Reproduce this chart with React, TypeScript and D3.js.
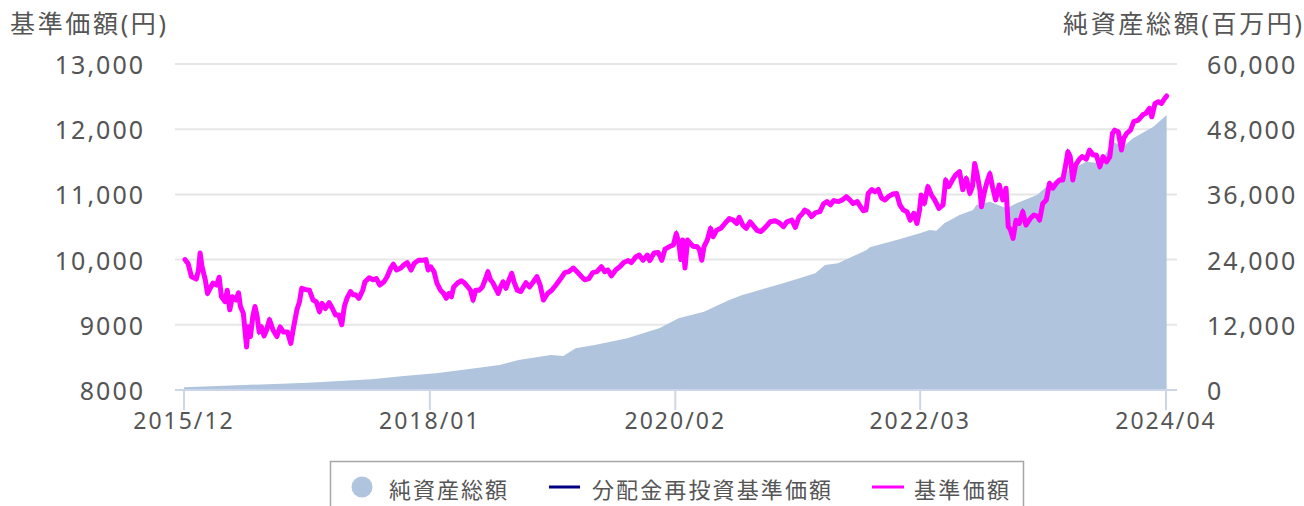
import React from "react";
import * as d3 from "d3";

// 基準価額 (円)
const priceData: [string, number][] = [
  ["2015-12-04", 10000], ["2015-12-14", 9935], ["2015-12-24", 9740], ["2016-01-08", 9700],
  ["2016-01-15", 9840], ["2016-01-20", 10100], ["2016-01-26", 9890], ["2016-02-05", 9690],
  ["2016-02-12", 9480], ["2016-02-20", 9560], ["2016-02-29", 9640], ["2016-03-11", 9610],
  ["2016-03-19", 9730], ["2016-03-26", 9430], ["2016-04-06", 9355], ["2016-04-13", 9530],
  ["2016-04-21", 9230], ["2016-04-29", 9430], ["2016-05-10", 9380], ["2016-05-18", 9490],
  ["2016-05-24", 9280], ["2016-06-02", 9175], ["2016-06-12", 8660], ["2016-06-17", 8970],
  ["2016-06-24", 8820], ["2016-07-01", 9120], ["2016-07-08", 9280], ["2016-07-15", 9120],
  ["2016-07-21", 8890], ["2016-07-28", 8970], ["2016-08-05", 8830], ["2016-08-13", 8920],
  ["2016-08-22", 9080], ["2016-09-02", 8920], ["2016-09-14", 8820], ["2016-09-24", 8970],
  ["2016-10-04", 8890], ["2016-10-17", 8890], ["2016-10-27", 8715], ["2016-11-05", 8970],
  ["2016-11-15", 9230], ["2016-11-23", 9355], ["2016-11-30", 9560], ["2016-12-13", 9540],
  ["2016-12-24", 9530], ["2017-01-04", 9380], ["2017-01-14", 9355], ["2017-01-24", 9200],
  ["2017-02-01", 9330], ["2017-02-11", 9250], ["2017-02-23", 9340], ["2017-03-05", 9250],
  ["2017-03-15", 9150], ["2017-03-25", 9150], ["2017-04-03", 9000], ["2017-04-11", 9280],
  ["2017-04-19", 9405], ["2017-04-30", 9510], ["2017-05-08", 9460], ["2017-05-16", 9460],
  ["2017-05-26", 9405], ["2017-06-07", 9530], ["2017-06-14", 9660], ["2017-06-27", 9720],
  ["2017-07-09", 9690], ["2017-07-19", 9710], ["2017-07-30", 9610], ["2017-08-12", 9660],
  ["2017-08-22", 9740], ["2017-09-02", 9870], ["2017-09-10", 9930], ["2017-09-20", 9840],
  ["2017-10-03", 9870], ["2017-10-13", 9920], ["2017-10-23", 9955], ["2017-11-04", 9840],
  ["2017-11-14", 9945], ["2017-11-27", 9990], ["2017-12-10", 9990], ["2017-12-20", 10000],
  ["2017-12-27", 9840], ["2018-01-04", 9890], ["2018-01-14", 9815], ["2018-01-23", 9640],
  ["2018-02-03", 9530], ["2018-02-13", 9480], ["2018-02-21", 9405], ["2018-03-01", 9480],
  ["2018-03-09", 9430], ["2018-03-16", 9580], ["2018-03-29", 9645], ["2018-04-09", 9675],
  ["2018-04-19", 9640], ["2018-04-29", 9580], ["2018-05-07", 9530], ["2018-05-15", 9380],
  ["2018-05-23", 9530], ["2018-06-03", 9530], ["2018-06-13", 9580], ["2018-06-23", 9710],
  ["2018-06-30", 9815], ["2018-07-08", 9690], ["2018-07-16", 9640], ["2018-07-24", 9560],
  ["2018-08-01", 9480], ["2018-08-08", 9580], ["2018-08-16", 9660], ["2018-08-25", 9560],
  ["2018-09-05", 9710], ["2018-09-12", 9790], ["2018-09-19", 9660], ["2018-09-29", 9530],
  ["2018-10-10", 9510], ["2018-10-18", 9580], ["2018-10-26", 9645], ["2018-11-06", 9580],
  ["2018-11-18", 9660], ["2018-11-29", 9740], ["2018-12-09", 9610], ["2018-12-19", 9380],
  ["2019-01-01", 9480], ["2019-01-14", 9530], ["2019-01-27", 9610], ["2019-02-11", 9710],
  ["2019-02-23", 9800], ["2019-03-08", 9815], ["2019-03-22", 9870], ["2019-04-02", 9815],
  ["2019-04-16", 9740], ["2019-04-26", 9690], ["2019-05-09", 9710], ["2019-05-21", 9800],
  ["2019-06-03", 9815], ["2019-06-17", 9890], ["2019-06-27", 9815], ["2019-07-07", 9840],
  ["2019-07-18", 9750], ["2019-07-31", 9840], ["2019-08-13", 9890], ["2019-08-25", 9955],
  ["2019-09-08", 9985], ["2019-09-18", 9955], ["2019-10-02", 10045], ["2019-10-12", 10070],
  ["2019-10-24", 9990], ["2019-11-06", 10070], ["2019-11-14", 9985], ["2019-11-27", 10100],
  ["2019-12-10", 10110], ["2019-12-21", 9990], ["2019-12-31", 10160], ["2020-01-14", 10200],
  ["2020-01-26", 10225], ["2020-02-04", 10400], ["2020-02-12", 10250], ["2020-02-18", 10000],
  ["2020-02-24", 10300], ["2020-03-02", 9870], ["2020-03-10", 10300], ["2020-03-18", 10250],
  ["2020-03-28", 10200], ["2020-04-08", 10200], ["2020-04-16", 10150], ["2020-04-23", 9990],
  ["2020-04-30", 10200], ["2020-05-10", 10300], ["2020-05-20", 10480], ["2020-05-28", 10350],
  ["2020-06-08", 10450], ["2020-06-21", 10480], ["2020-07-04", 10555], ["2020-07-17", 10630],
  ["2020-07-30", 10605], ["2020-08-09", 10555], ["2020-08-17", 10650], ["2020-08-28", 10530],
  ["2020-09-08", 10480], ["2020-09-20", 10580], ["2020-10-02", 10505], ["2020-10-12", 10445],
  ["2020-10-23", 10430], ["2020-11-06", 10495], ["2020-11-21", 10580], ["2020-12-06", 10595],
  ["2020-12-19", 10565], ["2021-01-01", 10505], ["2021-01-12", 10580], ["2021-01-27", 10605],
  ["2021-02-07", 10495], ["2021-02-18", 10650], ["2021-02-28", 10700], ["2021-03-08", 10760],
  ["2021-03-18", 10735], ["2021-03-29", 10660], ["2021-04-11", 10720], ["2021-04-24", 10735],
  ["2021-05-06", 10860], ["2021-05-16", 10890], ["2021-05-27", 10840], ["2021-06-06", 10905],
  ["2021-06-20", 10890], ["2021-07-03", 10915], ["2021-07-15", 10965], ["2021-07-26", 10915],
  ["2021-08-05", 10860], ["2021-08-18", 10890], ["2021-08-28", 10810], ["2021-09-06", 10750],
  ["2021-09-14", 10760], ["2021-09-21", 11015], ["2021-10-02", 11075], ["2021-10-12", 11040],
  ["2021-10-22", 11075], ["2021-11-02", 10940], ["2021-11-12", 10915], ["2021-11-22", 10965],
  ["2021-12-06", 11005], ["2021-12-18", 11015], ["2021-12-28", 10840], ["2022-01-08", 10760],
  ["2022-01-19", 10735], ["2022-01-29", 10605], ["2022-02-09", 10710], ["2022-02-19", 10555],
  ["2022-02-27", 10760], ["2022-03-04", 10990], ["2022-03-14", 10860], ["2022-03-25", 11120],
  ["2022-04-05", 10990], ["2022-04-15", 10915], ["2022-04-28", 10785], ["2022-05-11", 10840],
  ["2022-05-19", 11220], ["2022-05-29", 11120], ["2022-06-09", 11220], ["2022-06-19", 11300],
  ["2022-07-01", 11350], ["2022-07-11", 11070], ["2022-07-22", 11245], ["2022-08-02", 11015],
  ["2022-08-10", 11120], ["2022-08-17", 11475], ["2022-08-24", 11320], ["2022-09-02", 11070],
  ["2022-09-07", 10810], ["2022-09-15", 11015], ["2022-09-23", 11170], ["2022-10-03", 11320],
  ["2022-10-11", 11120], ["2022-10-21", 10915], ["2022-11-01", 11145], ["2022-11-12", 10915],
  ["2022-11-22", 11095], ["2022-11-29", 10505], ["2022-12-06", 10455], ["2022-12-14", 10325],
  ["2022-12-23", 10605], ["2023-01-02", 10555], ["2023-01-13", 10735], ["2023-01-23", 10530],
  ["2023-02-05", 10630], ["2023-02-17", 10685], ["2023-02-28", 10660], ["2023-03-06", 10605],
  ["2023-03-16", 10860], ["2023-03-27", 10915], ["2023-04-06", 11170], ["2023-04-16", 11095],
  ["2023-04-27", 11170], ["2023-05-07", 11220], ["2023-05-17", 11220], ["2023-05-25", 11425],
  ["2023-06-02", 11655], ["2023-06-09", 11580], ["2023-06-17", 11220], ["2023-06-26", 11450],
  ["2023-07-06", 11530], ["2023-07-16", 11580], ["2023-07-29", 11540], ["2023-08-08", 11680],
  ["2023-08-19", 11605], ["2023-08-29", 11605], ["2023-09-09", 11425], ["2023-09-19", 11580],
  ["2023-09-30", 11500], ["2023-10-10", 11580], ["2023-10-18", 11935], ["2023-10-25", 11985],
  ["2023-11-05", 11960], ["2023-11-15", 11680], ["2023-11-22", 11860], ["2023-12-01", 11935],
  ["2023-12-13", 11985], ["2023-12-23", 12115], ["2024-01-06", 12140], ["2024-01-20", 12220],
  ["2024-01-30", 12245], ["2024-02-10", 12320], ["2024-02-17", 12190], ["2024-02-27", 12395],
  ["2024-03-08", 12420], ["2024-03-18", 12395], ["2024-03-25", 12450], ["2024-04-03", 12510],
];

// 純資産総額 (百万円)
const netAssetData: [string, number][] = [
  ["2015-12-01", 500], ["2016-06-04", 920], ["2016-12-19", 1350], ["2017-07-04", 1970],
  ["2017-10-12", 2580], ["2018-01-20", 3070], ["2018-04-27", 3800], ["2018-08-05", 4600],
  ["2018-10-03", 5520], ["2019-01-11", 6440], ["2019-02-19", 6260], ["2019-03-29", 7670],
  ["2019-05-27", 8280], ["2019-09-05", 9510], ["2019-12-13", 11360], ["2020-02-11", 13200],
  ["2020-04-30", 14410], ["2020-07-17", 16560], ["2020-08-27", 17480], ["2020-12-23", 19510],
  ["2021-02-02", 20245], ["2021-04-10", 21500], ["2021-05-10", 23000], ["2021-06-19", 23320],
  ["2021-09-16", 25770], ["2021-09-26", 26260], ["2021-12-18", 27600], ["2022-02-28", 28840],
  ["2022-03-30", 29450], ["2022-04-20", 29320], ["2022-05-15", 30680], ["2022-07-01", 32210],
  ["2022-08-12", 33130], ["2022-08-22", 34050], ["2022-10-03", 34660], ["2022-11-24", 33440],
  ["2022-12-25", 34360], ["2023-02-26", 35890], ["2023-03-27", 37420], ["2023-06-07", 40490],
  ["2023-07-29", 42020], ["2023-09-09", 41720], ["2023-10-20", 45700], ["2023-11-20", 44780],
  ["2023-12-21", 46320], ["2024-02-22", 48460], ["2024-04-03", 50610],
];

const leftTicks = [8000, 9000, 10000, 11000, 12000, 13000];
const leftTickLabels = ["8000", "9000", "10,000", "11,000", "12,000", "13,000"];
const rightTicks = [0, 12000, 24000, 36000, 48000, 60000];
const rightTickLabels = ["0", "12,000", "24,000", "36,000", "48,000", "60,000"];
const xTickDates = ["2015-12-01", "2018-01-01", "2020-02-01", "2022-03-01", "2024-04-01"];
const xTickLabels = ["2015/12", "2018/01", "2020/02", "2022/03", "2024/04"];

const parse = d3.timeParse("%Y-%m-%d");
const font = "'Noto Sans', 'Noto Sans CJK JP', sans-serif";
const textColor = "#555";

export default function App() {
  const width = 1304;
  const height = 506;

  const x = d3.scaleTime()
    .domain([parse("2015-12-01")!, parse("2024-04-01")!])
    .range([184, 1166]);
  const yLeft = d3.scaleLinear().domain([8000, 13000]).range([390, 64]);
  const yRight = d3.scaleLinear().domain([0, 60000]).range([390, 64]);

  const line = d3.line<[string, number]>()
    .x(d => x(parse(d[0])!))
    .y(d => yLeft(d[1]));
  const area = d3.area<[string, number]>()
    .x(d => x(parse(d[0])!))
    .y0(yRight(0))
    .y1(d => yRight(d[1]));

  return (
    <svg width={width} height={height}
      style={{ position: "absolute", left: 0, top: 0, display: "block", background: "#fff" }}
      fontFamily={font}>
      {/* gridlines */}
      {leftTicks.slice(1).map(t => (
        <line key={t} x1={175} x2={1177} y1={yLeft(t)} y2={yLeft(t)}
          stroke="#e6e6e6" strokeWidth={2} />
      ))}

      {/* axis titles */}
      <text x={10} y={33} fontSize={25} fill={textColor} textLength={156} lengthAdjust="spacing">基準価額(円)</text>
      <text x={1063} y={33} fontSize={25} fill={textColor} textLength={239} lengthAdjust="spacing">純資産総額(百万円)</text>

      {/* left ticks */}
      {leftTicks.map((t, i) => (
        <text key={t} x={145} y={yLeft(t) + 10} fontSize={25} fill={textColor}
          textAnchor="end" letterSpacing={2}>{leftTickLabels[i]}</text>
      ))}
      {/* right ticks */}
      {rightTicks.map((t, i) => (
        <text key={t} x={1207} y={yRight(t) + 10} fontSize={25} fill={textColor}
          letterSpacing={2}>{rightTickLabels[i]}</text>
      ))}

      {/* net assets area */}
      <path d={area(netAssetData) ?? ""} fill="#b0c4de" />

      {/* x axis */}
      <line x1={175} x2={1177} y1={390} y2={390} stroke="#ccd6eb" strokeWidth={2} />
      {xTickDates.map((d, i) => {
        const px = x(parse(d)!);
        return (
          <g key={d}>
            <line x1={px} x2={px} y1={390} y2={410} stroke="#ccd6eb" strokeWidth={2} />
            <text x={px} y={429} fontSize={23} fill={textColor} textAnchor="middle"
              letterSpacing={2}>{xTickLabels[i]}</text>
          </g>
        );
      })}

      {/* 分配金再投資基準価額 (same as 基準価額, hidden below) */}
      <path d={line(priceData) ?? ""} fill="none" stroke="#000080" strokeWidth={2} />
      {/* 基準価額 */}
      <path d={line(priceData) ?? ""} fill="none" stroke="#ff00ff" strokeWidth={5}
        strokeLinejoin="round" strokeLinecap="round" />

      {/* legend */}
      <rect x={330.5} y={461.5} width={693} height={60} fill="#fff" stroke="#a6a6a6" strokeWidth={1.5} />
      <circle cx={362} cy={487} r={10.5} fill="#b0c4de" />
      <text x={389} y={498} fontSize={22} fill={textColor} textLength={118} lengthAdjust="spacing">純資産総額</text>
      <line x1={549} x2={580} y1={487} y2={487} stroke="#000080" strokeWidth={3} />
      <text x={592} y={498} fontSize={22} fill={textColor} textLength={239} lengthAdjust="spacing">分配金再投資基準価額</text>
      <line x1={872} x2={904} y1={487} y2={487} stroke="#ff00ff" strokeWidth={3} />
      <text x={914} y={498} fontSize={22} fill={textColor} textLength={95} lengthAdjust="spacing">基準価額</text>
    </svg>
  );
}
